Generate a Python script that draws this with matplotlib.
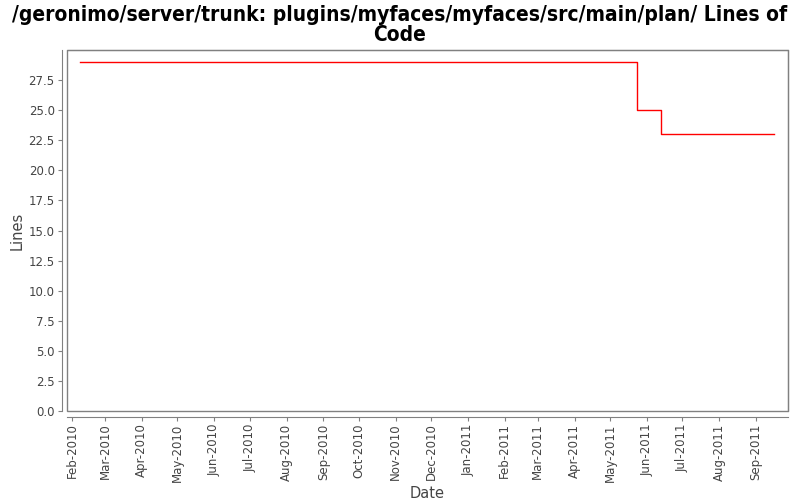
import matplotlib
matplotlib.use("Agg")
import matplotlib.pyplot as plt
import matplotlib.dates as mdates
import matplotlib.patches as mpatches
import numpy as np
import pandas as pd

# data
dates = pd.to_datetime(["2010-02-08", "2011-05-24", "2011-06-13", "2011-09-16"])
lines = [29, 25, 23, 23]

title = "/geronimo/server/trunk: plugins/myfaces/myfaces/src/main/plan/ Lines of\nCode"

fig = plt.figure(figsize=(8, 5), dpi=100)
ax = fig.add_axes([0.084, 0.178, 0.901, 0.722])

ax.step(dates, lines, where="post", color="red", linewidth=1.0)

ax.set_xlim(pd.Timestamp("2010-01-28"), pd.Timestamp("2011-09-28"))
ax.set_ylim(0, 30)
ax.set_yticks(np.arange(0, 30, 2.5))
ax.yaxis.set_major_formatter(plt.FormatStrFormatter("%.1f"))
ax.xaxis.set_major_locator(mdates.MonthLocator())
ax.xaxis.set_major_formatter(mdates.DateFormatter("%b-%Y"))
ax.tick_params(axis="x", labelrotation=90)

grey = "#808080"
for side in ["top", "right"]:
    ax.spines[side].set_color(grey)
for side in ["left", "bottom"]:
    ax.spines[side].set_color(grey)
    ax.spines[side].set_position(("outward", 4))
# inner plot box
ax.add_patch(mpatches.Rectangle((0, 0), 1, 1, transform=ax.transAxes,
                                fill=False, edgecolor=grey, linewidth=1.0,
                                clip_on=False, zorder=0))

ax.tick_params(colors=grey, labelcolor="#444444", labelsize=8.5, length=3, pad=2)
ax.set_xlabel("Date", fontsize=10.5, color="#444444", labelpad=3)
ax.set_ylabel("Lines", fontsize=10.5, color="#444444", labelpad=3)

fig.suptitle(title, fontsize=15, fontweight="bold", y=0.99,
             fontstretch="condensed", linespacing=1.0)

fig.savefig("out.png", dpi=100)
